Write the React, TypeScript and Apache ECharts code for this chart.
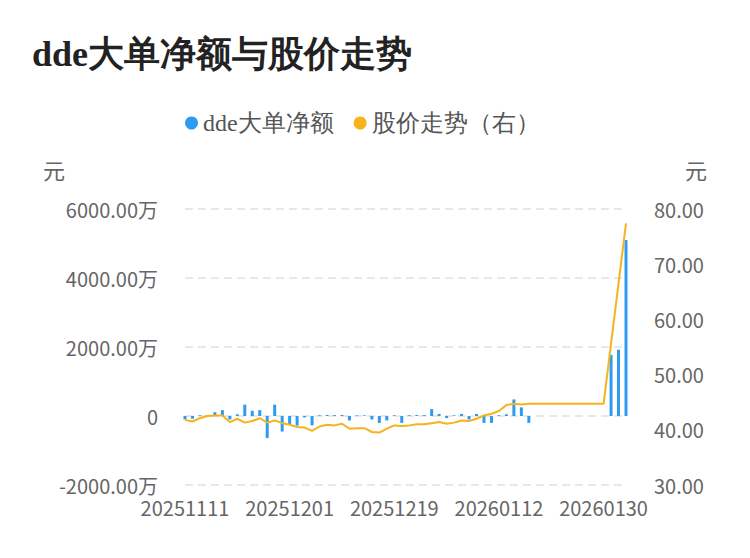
import React, { useEffect, useRef } from "react";
import * as echarts from "echarts";

const dates: string[] = [
  "20251111", "20251112", "20251113", "20251114", "20251117", "20251118", "20251119", "20251120", "20251121", "20251124",
  "20251125", "20251126", "20251127", "20251128", "20251201", "20251202", "20251203", "20251204", "20251205", "20251208",
  "20251209", "20251210", "20251211", "20251212", "20251215", "20251216", "20251217", "20251218", "20251219", "20251222",
  "20251223", "20251224", "20251225", "20251226", "20251229", "20251230", "20251231", "20260105", "20260106", "20260107",
  "20260108", "20260109", "20260112", "20260113", "20260114", "20260115", "20260116", "20260119", "20260120", "20260121",
  "20260122", "20260123", "20260126", "20260127", "20260128", "20260129", "20260130", "20260202", "20260203", "20260204",
];

// dde大单净额 (万元)
const ddeNet: (number | null)[] = [
  -100, -80, 20, 30, 110, 170, -100, 50, 330, 150,
  170, -640, 330, -450, -250, -280, -40, -270, 20, 30,
  25, 30, -130, 15, 20, -100, -200, -130, 20, -200,
  20, 30, 25, 200, 60, -60, 20, 60, -100, 60,
  -200, -200, 20, 50, 480, 250, -200, null, null, null,
  null, null, null, null, null, null, null, 1770, 1920, 5100,
];

// 股价 (元)
const price: number[] = [
  41.8, 41.5, 42.1, 42.5, 42.6, 42.6, 41.4, 42.0, 41.3, 41.6,
  42.1, 41.3, 41.7, 41.2, 40.9, 40.5, 40.4, 39.8, 40.6, 40.9,
  40.8, 41.1, 40.2, 40.3, 40.3, 39.6, 39.5, 40.2, 40.8, 40.7,
  40.8, 41.0, 41.0, 41.2, 41.4, 41.1, 41.3, 41.7, 41.6, 42.0,
  42.6, 42.9, 43.4, 44.5, 44.7, 44.6, 44.7, 44.7, 44.7, 44.7,
  44.7, 44.7, 44.7, 44.7, 44.7, 44.7, 44.7, 55.6, 66.5, 77.4,
];

const SANS = "'Noto Sans CJK SC', sans-serif";
const SERIF = "serif";

export default function App() {
  const ref = useRef<HTMLDivElement>(null);
  useEffect(() => {
    document.body.style.margin = "0";
    if (!ref.current) return;
    const chart = echarts.init(ref.current, undefined, { renderer: "svg" });
    chart.setOption({
      animation: false,
      title: {
        text: "dde大单净额与股价走势",
        left: 32,
        top: 36,
        padding: 0,
        textStyle: { fontFamily: SERIF, fontSize: 36, fontWeight: "bold", color: "#222" },
      },
      legend: {
        left: 185,
        top: 111,
        padding: 0,
        itemWidth: 13,
        itemHeight: 13,
        itemGap: 20,
        icon: "circle",
        textStyle: { fontFamily: SERIF, fontSize: 24, color: "#555" },
        data: ["dde大单净额", "股价走势（右）"],
      },
      grid: { left: 185, right: 124, top: 209, bottom: 73 },
      xAxis: {
        type: "category",
        data: dates,
        boundaryGap: false,
        axisLine: { show: false },
        axisTick: { show: false },
        axisLabel: { interval: 13, margin: 12, fontFamily: SANS, fontSize: 20, color: "#666" },
      },
      yAxis: [
        {
          type: "value",
          min: -2000,
          max: 6000,
          interval: 2000,
          name: "元",
          nameLocation: "end",
          nameGap: 29,
          nameTextStyle: { fontFamily: SANS, fontSize: 22, color: "#666", align: "right", padding: [0, 120, 0, 0] },
          axisLine: { show: false },
          axisTick: { show: false },
          axisLabel: {
            margin: 27,
            fontFamily: SANS,
            fontSize: 20,
            color: "#666",
            formatter: (v: number) => (v === 0 ? "0" : v.toFixed(2) + "万"),
          },
          splitLine: { show: true, lineStyle: { color: "#e8e8e8", width: 2, type: [8, 5] } },
        },
        {
          type: "value",
          min: 30,
          max: 80,
          interval: 10,
          name: "元",
          nameLocation: "end",
          nameGap: 29,
          nameTextStyle: { fontFamily: SANS, fontSize: 22, color: "#666", align: "left", padding: [0, 0, 0, 59] },
          axisLine: { show: false },
          axisTick: { show: false },
          axisLabel: {
            margin: 28,
            fontFamily: SANS,
            fontSize: 20,
            color: "#666",
            formatter: (v: number) => v.toFixed(2),
          },
          splitLine: { show: false },
        },
      ],
      series: [
        {
          name: "dde大单净额",
          type: "bar",
          yAxisIndex: 0,
          data: ddeNet,
          barWidth: 3,
          itemStyle: { color: "#2d9bf0" },
        },
        {
          name: "股价走势（右）",
          type: "line",
          yAxisIndex: 1,
          data: price,
          showSymbol: false,
          symbol: "circle",
          lineStyle: { color: "#f7b21c", width: 2 },
          itemStyle: { color: "#f7b21c" },
        },
      ],
    });
    return () => chart.dispose();
  }, []);
  return <div ref={ref} style={{ width: 750, height: 558 }} />;
}
